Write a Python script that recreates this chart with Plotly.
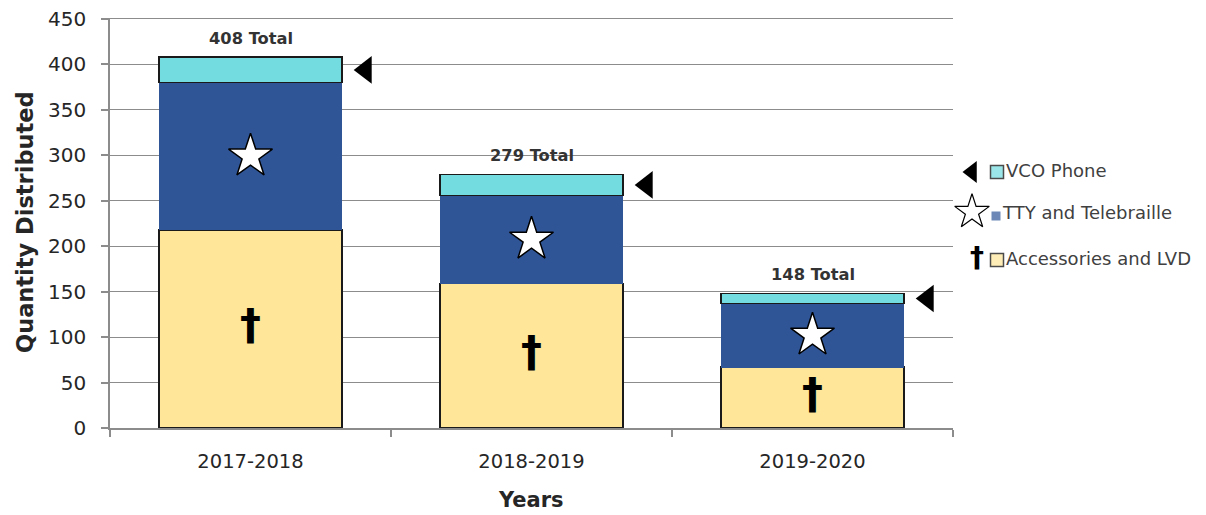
import plotly.graph_objects as go

categories = ["2017-2018", "2018-2019", "2019-2020"]
accessories = [218, 159, 67]
tty = [162, 97, 70]
vco = [28, 23, 11]
totals = [408, 279, 148]
y_ticks = [0, 50, 100, 150, 200, 250, 300, 350, 400, 450]

series_names = ["Accessories and LVD", "TTY and Telebraille", "VCO Phone"]

# the page body adds an 8px offset; figure laid out in page pixels minus that
OFF = 8
W, H = 1206 - OFF, 515 - OFF
Y_TOP = 451.5                      # small headroom so the 450 gridline is drawn
PX_PER_UNIT = (428 - 19) / 450.0
L, R = 110 - OFF, 953 - OFF
B = 428 - OFF
T = 428 - Y_TOP * PX_PER_UNIT - OFF

FONT = "DejaVu Sans"
C_YEL = "#FFE699"
C_BLU = "#2F5597"
C_CYA = "#72DCE0"
GRID = "#8c8c8c"
TXT = "#333333"

xs = list(range(len(categories)))

fig = go.Figure()
fig.add_trace(go.Bar(x=xs, y=accessories, name=series_names[0], width=0.65,
                     marker=dict(color=C_YEL, line=dict(color="#1a1a1a", width=1.5))))
fig.add_trace(go.Bar(x=xs, y=tty, name=series_names[1], width=0.65,
                     marker=dict(color=C_BLU, line=dict(color=C_BLU, width=1))))
fig.add_trace(go.Bar(x=xs, y=vco, name=series_names[2], width=0.65,
                     marker=dict(color=C_CYA, line=dict(color="#1a1a1a", width=1.5))))

# in-bar symbols
dagger_y = [a / 2 for a in accessories]
star_y = [a + t / 2 for a, t in zip(accessories, tty)]
tri_y = [a + t + v / 2 for a, t, v in zip(accessories, tty, vco)]

fig.add_trace(go.Scatter(x=xs, y=dagger_y, mode="text", text=["<b>†</b>"] * 3,
                         textfont=dict(family="DejaVu Sans", size=42, color="black"),
                         hoverinfo="skip"))
fig.add_trace(go.Scatter(x=xs, y=star_y, mode="markers",
                         marker=dict(symbol="star", size=33, color="white",
                                     line=dict(color="black", width=1.5)),
                         hoverinfo="skip"))
fig.add_trace(go.Scatter(x=[x + 0.41 for x in xs], y=tri_y, mode="markers",
                         marker=dict(symbol="triangle-left", size=24, color="black"),
                         hoverinfo="skip"))

# legend drawn on a full-figure pixel axis pair (page pixel positions minus OFF)
leg_y = [172 - OFF, 214 - OFF, 260 - OFF]
fig.add_trace(go.Scatter(x=[972 - OFF], y=[leg_y[0]], mode="markers", xaxis="x2", yaxis="y2",
                         marker=dict(symbol="triangle-left", size=19, color="black"),
                         hoverinfo="skip"))
fig.add_trace(go.Scatter(x=[972 - OFF], y=[leg_y[1] - 2], mode="markers", xaxis="x2", yaxis="y2",
                         marker=dict(symbol="star", size=26, color="white",
                                     line=dict(color="black", width=1.2)),
                         hoverinfo="skip"))
fig.add_trace(go.Scatter(x=[977 - OFF], y=[leg_y[2]], mode="text", text=["<b>†</b>"],
                         xaxis="x2", yaxis="y2",
                         textfont=dict(family="DejaVu Sans", size=28, color="black"),
                         hoverinfo="skip"))
fig.add_trace(go.Scatter(x=[997 - OFF, 996 - OFF, 997 - OFF],
                         y=[leg_y[0], leg_y[1] + 2, leg_y[2]], mode="markers",
                         xaxis="x2", yaxis="y2",
                         marker=dict(symbol="square", size=[13, 9, 13],
                                     color=[C_CYA, C_BLU, C_YEL],
                                     line=dict(color=["black", C_BLU, "black"], width=[1.5, 0, 1.5])),
                         hoverinfo="skip"))
leg_text = [series_names[2], series_names[1], series_names[0]]
fig.add_trace(go.Scatter(x=[1006 - OFF, 1003 - OFF, 1006 - OFF], y=leg_y, mode="text",
                         text=leg_text, textposition="middle right", xaxis="x2", yaxis="y2",
                         textfont=dict(family=FONT, size=18, color="#404040"),
                         hoverinfo="skip"))

annotations = []
for x, t in zip(xs, totals):
    annotations.append(dict(x=x, y=t, xref="x", yref="y", text=f"<b>{t} Total</b>",
                            showarrow=False, yshift=19, yanchor="middle",
                            font=dict(family=FONT, size=16.3, color=TXT)))
annotations.append(dict(x=(25 - OFF) / W, y=1 - (222 - OFF) / H, xref="paper", yref="paper",
                        xanchor="center", yanchor="middle",
                        text="<b>Quantity Distributed</b>", textangle=-90, showarrow=False,
                        font=dict(family=FONT, size=22.5, color="#262626")))
annotations.append(dict(x=(531 - OFF) / W, y=1 - (500 - OFF) / H, xref="paper", yref="paper",
                        xanchor="center", yanchor="middle",
                        text="<b>Years</b>", showarrow=False,
                        font=dict(family=FONT, size=21, color="#262626")))

fig.update_layout(
    width=W, height=H, barmode="stack", showlegend=False,
    paper_bgcolor="white", plot_bgcolor="rgba(0,0,0,0)",
    margin=dict(l=0, r=0, t=0, b=0),
    annotations=annotations,
    xaxis=dict(domain=[L / W, R / W], range=[-0.5, 2.5], tickvals=xs, ticktext=categories,
               ticks="", showgrid=False, zeroline=False, showline=True, linecolor=GRID,
               linewidth=1.5, ticklabelstandoff=15, automargin=False, fixedrange=True,
               tickfont=dict(family=FONT, size=19.5, color="#262626"),
               minor=dict(tick0=-0.5, dtick=1, ticks="outside", ticklen=7,
                          tickcolor=GRID, tickwidth=1.5, showgrid=False)),
    yaxis=dict(domain=[1 - B / H, 1 - T / H], range=[0, Y_TOP], tickvals=y_ticks,
               showgrid=True, gridcolor=GRID, gridwidth=1.2, zeroline=False,
               showline=True, linecolor=GRID, linewidth=1.5, automargin=False,
               ticks="outside", ticklen=7, tickcolor=GRID, tickwidth=1.5,
               ticklabelstandoff=11, fixedrange=True, ticklabeloverflow="allow",
               tickfont=dict(family=FONT, size=20, color="#262626")),
    xaxis2=dict(domain=[0, 1], range=[0, W], anchor="y2", visible=False,
                fixedrange=True, automargin=False),
    yaxis2=dict(domain=[0, 1], range=[H, 0], anchor="x2", visible=False,
                fixedrange=True, automargin=False),
)

fig.write_html("out.html")
